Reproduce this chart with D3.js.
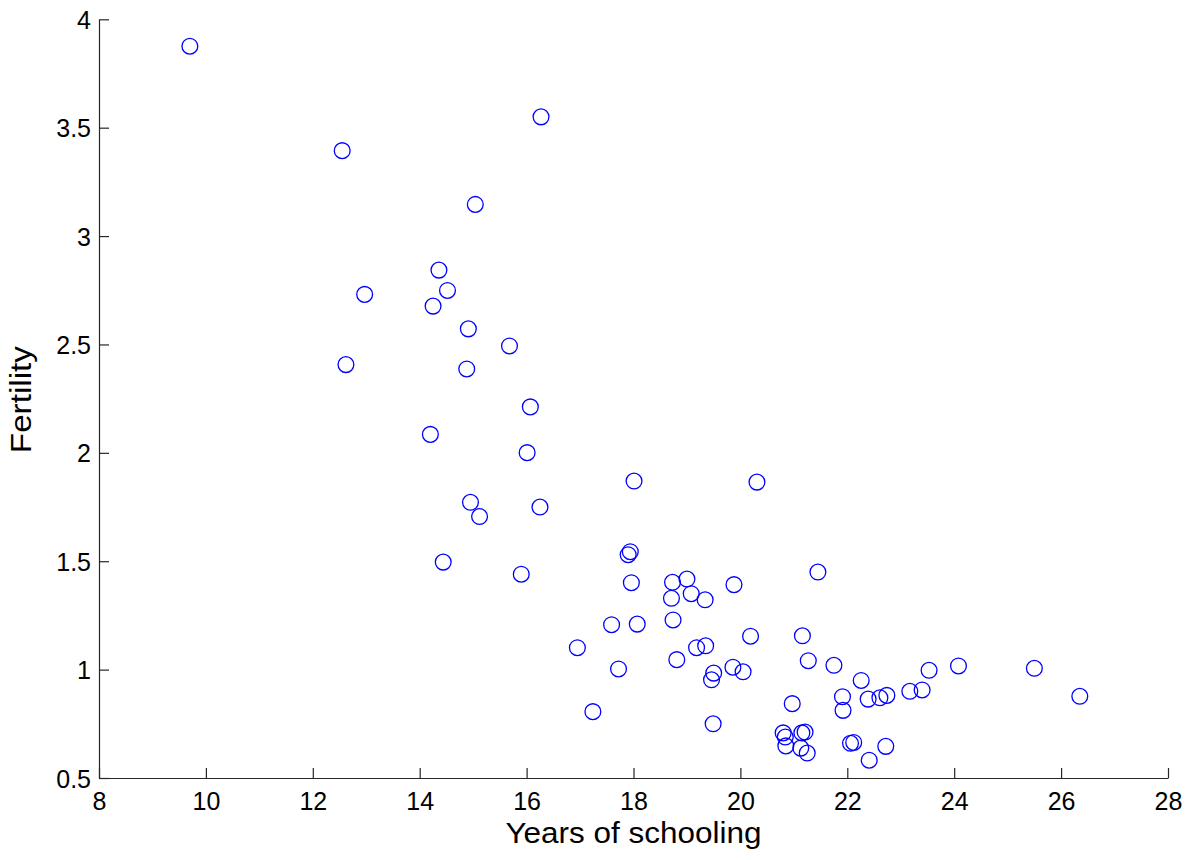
<!DOCTYPE html>
<html>
<head>
<meta charset="utf-8">
<script src="https://cdn.jsdelivr.net/npm/d3@7"></script>
<style>
  html, body { margin: 0; padding: 0; background: #fff; }
  svg { display: block; font-family: "Liberation Sans", Arial, Helvetica, sans-serif; }
</style>
</head>
<body>
<svg id="chart" width="1187" height="860"></svg>
<script>
// Years of schooling (x) and fertility rate (y) per country
const schooling = [
  9.70, 12.55, 16.27, 15.04, 14.36, 12.97, 14.52, 14.25, 14.91, 15.68,
  12.62, 14.88, 16.07, 14.20, 16.01, 14.95, 15.12, 16.25, 18.01, 20.31,
  14.44, 15.90, 17.90, 17.94, 17.96, 18.73, 19.00, 19.08, 18.71, 19.34,
  19.88, 21.45, 18.74, 17.59, 18.07, 16.95, 19.18, 19.35, 20.19, 21.16,
  17.72, 18.81, 19.50, 19.46, 19.86, 20.05, 21.27, 21.75, 17.24, 19.49,
  20.97, 21.91, 21.92, 20.80, 20.84, 20.85, 21.15, 21.21, 21.13, 21.25,
  22.26, 22.39, 22.61, 22.74, 23.17, 23.40, 23.53, 24.08, 25.50, 26.35,
  22.06, 22.12, 22.72, 22.41
];
const fertility = [
  3.876, 3.394, 3.550, 3.146, 2.843, 2.731, 2.749, 2.677, 2.572, 2.493,
  2.407, 2.387, 2.212, 2.085, 2.001, 1.772, 1.706, 1.750, 1.870, 1.865,
  1.496, 1.440, 1.530, 1.544, 1.401, 1.403, 1.418, 1.350, 1.329, 1.322,
  1.392, 1.450, 1.229, 1.207, 1.210, 1.101, 1.101, 1.110, 1.154, 1.156,
  1.003, 1.046, 0.984, 0.953, 1.011, 0.990, 1.041, 1.020, 0.806, 0.750,
  0.843, 0.875, 0.812, 0.708, 0.689, 0.648, 0.708, 0.712, 0.638, 0.615,
  0.950, 0.864, 0.870, 0.881, 0.900, 0.906, 0.997, 1.017, 1.006, 0.877,
  0.660, 0.664, 0.646, 0.582
];
const xTicks = [8, 10, 12, 14, 16, 18, 20, 22, 24, 26, 28];
const yTicks = [0.5, 1, 1.5, 2, 2.5, 3, 3.5, 4];
const xTitle = "Years of schooling";
const yTitle = "Fertility";

const points = schooling.map((s, i) => ({ x: s, y: fertility[i] }));

const svg = d3.select("#chart");
const plotLeft = 99, plotRight = 1168, plotTop = 19.3, plotBottom = 778;

const x = d3.scaleLinear().domain([8, 28]).range([plotLeft, plotRight]);
const y = d3.scaleLinear().domain([0.5, 4]).range([plotBottom, plotTop]);

// Axes with inward ticks
const xAxis = d3.axisBottom(x).tickValues(xTicks).tickFormat(d3.format("d"))
  .tickSizeInner(-10).tickSizeOuter(0);
const yAxis = d3.axisLeft(y).tickValues(yTicks).tickFormat(d => String(d))
  .tickSizeInner(-10).tickSizeOuter(0).tickPadding(8);

const gx = svg.append("g").attr("transform", `translate(0,${plotBottom})`).call(xAxis);
const gy = svg.append("g").attr("transform", `translate(${plotLeft},0)`).call(yAxis);

[gx, gy].forEach(g => {
  g.select(".domain").attr("stroke", "#262626").attr("stroke-width", 1.2);
  g.selectAll(".tick line").attr("stroke", "#262626").attr("stroke-width", 1.2);
  g.selectAll(".tick text")
    .attr("fill", "#000")
    .style("font-size", "25px")
    .style("font-family", "'Liberation Sans', Arial, Helvetica, sans-serif");
});
gy.selectAll(".tick text").attr("x", -8).attr("dy", "0.36em");
gx.selectAll(".tick text").attr("y", 32).attr("dy", 0);

// Scatter markers
svg.append("g")
  .selectAll("circle")
  .data(points)
  .join("circle")
  .attr("cx", d => x(d.x))
  .attr("cy", d => y(d.y))
  .attr("r", 7.9)
  .attr("fill", "none")
  .attr("stroke", "#0000ff")
  .attr("stroke-width", 1.3);

// Axis titles
svg.append("text")
  .attr("x", (plotLeft + plotRight) / 2)
  .attr("y", 843)
  .attr("text-anchor", "middle")
  .attr("textLength", 256)
  .attr("lengthAdjust", "spacingAndGlyphs")
  .style("font-size", "29px")
  .attr("fill", "#000")
  .text(xTitle);

svg.append("text")
  .attr("transform", `translate(31,${(plotTop + plotBottom) / 2 + 1}) rotate(-90)`)
  .attr("text-anchor", "middle")
  .attr("textLength", 107)
  .attr("lengthAdjust", "spacingAndGlyphs")
  .style("font-size", "29px")
  .attr("fill", "#000")
  .text(yTitle);
</script>
</body>
</html>
